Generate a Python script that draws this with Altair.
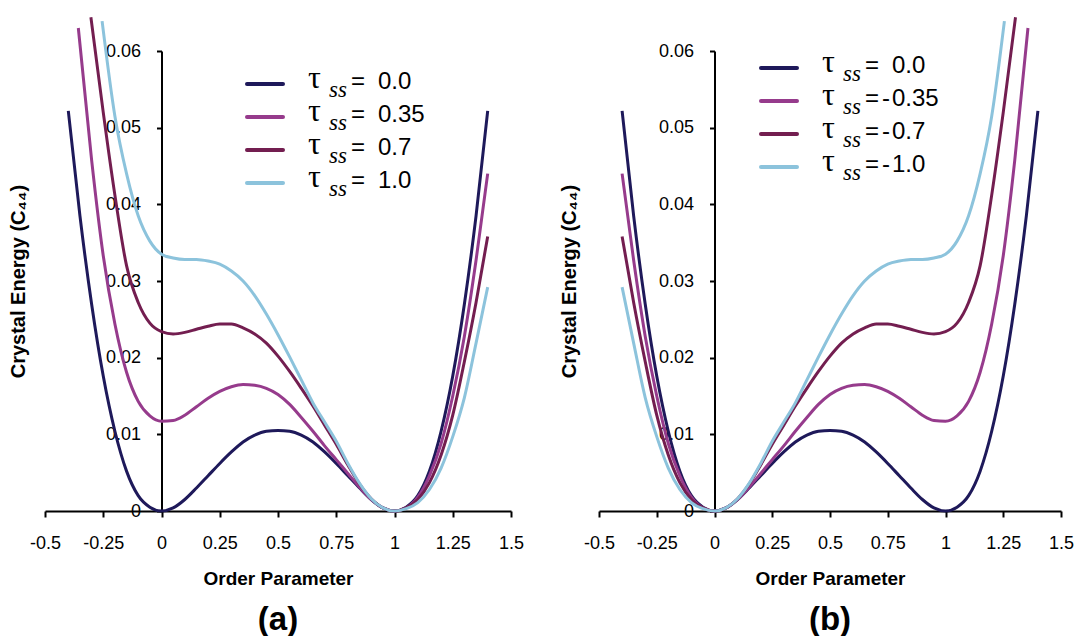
import altair as alt
import pandas as pd

# ---------------- data ----------------
X_T0 = [-0.40, -0.35, -0.30, -0.25, -0.20, -0.15, -0.10, -0.05, 0.00, 0.05, 0.10, 0.15, 0.20,
        0.25, 0.30, 0.35, 0.40, 0.45, 0.50, 0.55, 0.60, 0.65, 0.70, 0.75, 0.80, 0.85, 0.90,
        0.95, 1.00, 1.05, 1.10, 1.15, 1.20, 1.25, 1.30, 1.35, 1.40]
V_T0 = [0.0522, 0.0385, 0.0270, 0.0176, 0.0104, 0.0052, 0.0020, 0.0005, 0.0000, 0.0004,
        0.0015, 0.0030, 0.0046, 0.0062, 0.0077, 0.0090, 0.0099, 0.0104, 0.0105, 0.0104,
        0.0099, 0.0090, 0.0077, 0.0062, 0.0046, 0.0030, 0.0015, 0.0004, 0.0000, 0.0005,
        0.0020, 0.0052, 0.0104, 0.0176, 0.0270, 0.0385, 0.0522]

X_T035 = [-0.357, -0.30, -0.25, -0.20, -0.15, -0.10, -0.05, 0.00, 0.05, 0.10, 0.15, 0.20,
          0.25, 0.30, 0.35, 0.40, 0.45, 0.50, 0.55, 0.60, 0.65, 0.70, 0.75, 0.80, 0.85, 0.90,
          0.95, 1.00, 1.05, 1.10, 1.15, 1.20, 1.25, 1.30, 1.35, 1.40]
V_T035 = [0.0630, 0.0458, 0.0333, 0.0244, 0.0181, 0.0143, 0.0124, 0.0117, 0.0118, 0.0125,
          0.0136, 0.0147, 0.0156, 0.0162, 0.0165, 0.0164, 0.0160, 0.0152, 0.0139, 0.0122,
          0.0104, 0.0085, 0.0067, 0.0049, 0.0031, 0.0015, 0.0004, 0.0000, 0.0004, 0.0018,
          0.0046, 0.0088, 0.0150, 0.0228, 0.0327, 0.0440]

X_T07 = [-0.303, -0.25, -0.20, -0.15, -0.10, -0.05, 0.00, 0.05, 0.10, 0.15, 0.20, 0.25,
         0.30, 0.35, 0.40, 0.45, 0.50, 0.55, 0.60, 0.65, 0.70, 0.75, 0.80, 0.85, 0.90, 0.95,
         1.00, 1.05, 1.10, 1.15, 1.20, 1.25, 1.30, 1.35, 1.40]
V_T07 = [0.0644, 0.0520, 0.0412, 0.0320, 0.0272, 0.0245, 0.0234, 0.0231, 0.0233, 0.0237,
         0.0241, 0.0244, 0.0244, 0.0239, 0.0231, 0.0219, 0.0202, 0.0182, 0.0160, 0.0137,
         0.0112, 0.0087, 0.0060, 0.0035, 0.0016, 0.0004, 0.0000, 0.0004, 0.0015, 0.0037,
         0.0073, 0.0125, 0.0195, 0.0272, 0.0358]

X_T1 = [-0.255, -0.20, -0.15, -0.10, -0.05, 0.00, 0.05, 0.10, 0.15, 0.20, 0.25, 0.30,
        0.35, 0.40, 0.45, 0.50, 0.55, 0.60, 0.65, 0.70, 0.75, 0.80, 0.85, 0.90, 0.95, 1.00,
        1.05, 1.10, 1.15, 1.20, 1.25, 1.30, 1.35, 1.40]
V_T1 = [0.0639, 0.0515, 0.0440, 0.0385, 0.0352, 0.0335, 0.0330, 0.0328, 0.0328, 0.0326,
        0.0322, 0.0313, 0.0300, 0.0281, 0.0257, 0.0230, 0.0201, 0.0171, 0.0141, 0.0116,
        0.0091, 0.0062, 0.0036, 0.0016, 0.0004, 0.0000, 0.0003, 0.0011, 0.0028, 0.0056,
        0.0097, 0.0148, 0.0219, 0.0292]

SERIES = [(X_T0, V_T0), (X_T035, V_T035), (X_T07, V_T07), (X_T1, V_T1)]
COLORS = ["#1e195a", "#963b8c", "#731e50", "#8cc3dc"]
LEGEND_A = ["0.0", "0.35", "0.7", "1.0"]
LEGEND_B = ["0.0", "-0.35", "-0.7", "-1.0"]
X_TICKS = [-0.5, -0.25, 0, 0.25, 0.5, 0.75, 1, 1.25, 1.5]
Y_TICKS = [0, 0.01, 0.02, 0.03, 0.04, 0.05, 0.06]

FONT = "Liberation Sans"
H = 460
DUMMY = pd.DataFrame({"d": [0]})


def panel(mirror, width, title_x, leg_x, leg_y, legend_vals, label):
    layers = []
    for k, (xs, vs) in enumerate(SERIES):
        df = pd.DataFrame({"x": [1 - x if mirror else x for x in xs], "v": vs})
        xk = dict(scale=alt.Scale(domain=[-0.5, 1.5], nice=False, zero=False))
        yk = dict(scale=alt.Scale(domain=[0, 0.06], nice=False, zero=False))
        if k == 0:
            xk["axis"] = alt.Axis(values=X_TICKS, labelExpr="'' + datum.value",
                                  title="Order Parameter", grid=False, domainColor="black",
                                  domainWidth=2, tickColor="black", tickWidth=2, tickSize=6,
                                  labelFont=FONT, labelFontSize=18, labelColor="black",
                                  labelPadding=17, labelFlush=False, labelOverlap=False,
                                  titleFont=FONT, titleFontSize=19, titleFontWeight="bold",
                                  titleColor="black", titlePadding=17)
            yk["axis"] = alt.Axis(values=Y_TICKS, labelExpr="'' + datum.value",
                                  title="Crystal Energy (C\u2084\u2084)", grid=False,
                                  offset=-width / 4, domainColor="black", domainWidth=2,
                                  tickColor="black", tickWidth=2, tickSize=5, labelFont=FONT,
                                  labelFontSize=18, labelColor="black", labelPadding=16,
                                  labelFlush=False, labelOverlap=False, titleFont=FONT,
                                  titleFontSize=20, titleFontWeight="bold", titleColor="black",
                                  titleX=title_x, titleY=H / 2, titleAngle=270,
                                  titleBaseline="middle", titleAlign="center")
        layers.append(
            alt.Chart(df).mark_line(strokeWidth=3, interpolate="monotone", color=COLORS[k])
            .encode(x=alt.X("x:Q", **xk), y=alt.Y("v:Q", **yk))
        )
    # legend
    for i, (val, col) in enumerate(zip(legend_vals, COLORS)):
        yy = leg_y + 33 * i
        layers.append(alt.Chart(DUMMY).mark_rule(color=col, strokeWidth=4, strokeCap="round")
                      .encode(x=alt.value(leg_x), x2=alt.value(leg_x + 36), y=alt.value(yy)))
        layers.append(alt.Chart(DUMMY).mark_text(text="\u03c4", font="Liberation Serif",
                                                 fontSize=32, align="left", baseline="alphabetic",
                                                 color="black")
                      .encode(x=alt.value(leg_x + 61), y=alt.value(yy + 4)))
        layers.append(alt.Chart(DUMMY).mark_text(text="ss", font="Liberation Serif",
                                                 fontStyle="italic", fontSize=23, align="left",
                                                 baseline="alphabetic", color="black")
                      .encode(x=alt.value(leg_x + 82), y=alt.value(yy + 13)))
        layers.append(alt.Chart(DUMMY).mark_text(text="=", font=FONT, fontSize=24, align="left",
                                                 baseline="alphabetic", color="black")
                      .encode(x=alt.value(leg_x + 104), y=alt.value(yy + 5)))
        digits = val
        if val.startswith("-"):
            digits = val[1:]
            layers.append(alt.Chart(DUMMY).mark_text(text="-", font=FONT, fontSize=24,
                                                     align="left", baseline="alphabetic",
                                                     color="black")
                          .encode(x=alt.value(leg_x + 121), y=alt.value(yy + 5)))
        layers.append(alt.Chart(DUMMY).mark_text(text=digits, font=FONT, fontSize=24,
                                                 align="left", baseline="alphabetic",
                                                 color="black")
                      .encode(x=alt.value(leg_x + 131), y=alt.value(yy + 5)))
    return alt.layer(*layers).properties(
        width=width, height=H,
        title=alt.TitleParams(label, orient="bottom", anchor="middle", font=FONT, fontSize=33,
                              fontWeight="bold", color="black", offset=16),
    )


pa = panel(False, 466, -143.5, 202, 33, LEGEND_A, "(a)")
pb = panel(True, 462, -145.5, 162, 17, LEGEND_B, "(b)")

chart = alt.hconcat(pa, pb, spacing=35).configure_view(stroke=None).properties(
    padding={"left": 8, "top": 11, "right": 0, "bottom": 0}
)

chart.save("out.html", embed_options={"renderer": "svg", "actions": False})
